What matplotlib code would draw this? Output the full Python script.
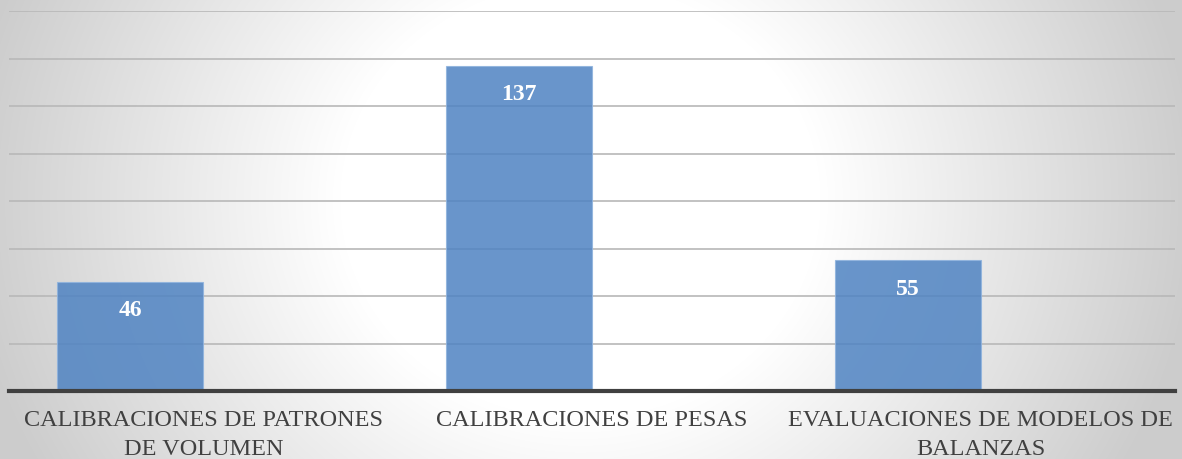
import numpy as np
import matplotlib
matplotlib.use("Agg")
import matplotlib.pyplot as plt

categories = ["CALIBRACIONES DE PATRONES\nDE VOLUMEN",
              "CALIBRACIONES DE PESAS",
              "EVALUACIONES DE MODELOS DE\nBALANZAS"]
values = [46, 137, 55]
y_ticks = [0, 20, 40, 60, 80, 100, 120, 140, 160]

W, H = 1182, 459
DPI = 100
fig = plt.figure(figsize=(W / DPI, H / DPI), dpi=DPI)

# radial gradient background
bg = fig.add_axes([0, 0, 1, 1], zorder=0)
yy, xx = np.mgrid[0:H, 0:W]
cx, cy = 580, 200
d = np.sqrt((xx - cx) ** 2 + ((yy - cy) * 1.1) ** 2)
g = 1.0 - 0.2 * np.clip((d - 240) / 380.0, 0, 1)
bg.imshow(np.dstack([g, g, g]), aspect="auto", extent=[0, 1, 0, 1], origin="upper")
bg.axis("off")

left, right = 9 / W, 1175 / W
bottom, top = 1 - 391 / H, 1 - 11 / H
ax = fig.add_axes([left, bottom, right - left, top - bottom], zorder=1)
ax.patch.set_alpha(0)

x = np.arange(len(categories))
bw = 0.376
ax.bar(x - bw / 2, values, width=bw, color="#4f83c2", alpha=0.85,
       edgecolor="#8fb3de", linewidth=0.8, zorder=3)

for xi, v in zip(x, values):
    ax.text(xi - bw / 2, v - 12.2, str(v), ha="center", va="center",
            color="white", fontsize=17, fontweight="bold",
            family="Liberation Serif", zorder=4)

ax.set_xlim(-0.5, 2.5)
ax.set_ylim(0, 160)
ax.set_yticks(y_ticks)
ax.yaxis.grid(True, color="#b8b8b8", linewidth=1.2, zorder=1)
ax.tick_params(axis="y", left=False, labelleft=False)
ax.set_xticks(x)
ax.set_xticklabels(categories, family="Liberation Serif", fontsize=17.5,
                   color="#404040", linespacing=1.45)
ax.tick_params(axis="x", length=0, pad=14)
for s in ["top", "right", "left"]:
    ax.spines[s].set_visible(False)
ax.spines["bottom"].set_color("#404040")
ax.spines["bottom"].set_linewidth(3)
ax.spines["bottom"].set_zorder(5)

fig.savefig("out.png", dpi=DPI)
